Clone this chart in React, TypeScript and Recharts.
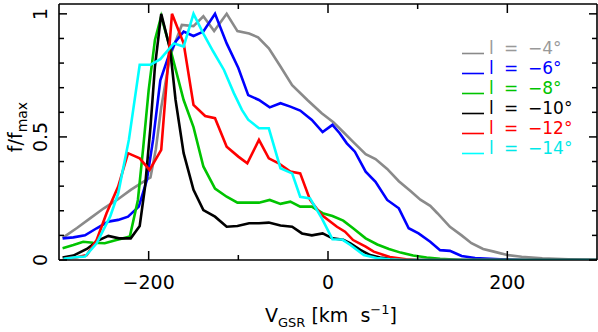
import { LineChart, Line, XAxis, YAxis } from 'recharts';

const X_TICKS = [-200, -100, 0, 100, 200];
const X_LABELED = [-200, 0, 200];
const Y_TICKS = [0, 0.1, 0.2, 0.3, 0.4, 0.5, 0.6, 0.7, 0.8, 0.9, 1];
const Y_LABELED = [0, 0.5, 1];

// [v_gsr, f/fmax]
const L4 = [
  [-296, 0.09], [-280, 0.13], [-265, 0.17], [-250, 0.21], [-235, 0.245], [-220, 0.285], [-207, 0.315],
  [-198, 0.335], [-192, 0.45], [-186, 0.62], [-176, 0.83], [-163, 0.955], [-150, 0.95], [-139, 0.99],
  [-127, 0.93], [-113, 1.0], [-101, 0.93], [-88, 0.92], [-78, 0.905], [-66, 0.86], [-53, 0.786],
  [-40, 0.71], [-23, 0.65], [-7, 0.596], [6, 0.56], [17, 0.52], [28, 0.48], [42, 0.43], [53, 0.41],
  [66, 0.37], [79, 0.32], [92, 0.28], [103, 0.245], [114, 0.22], [122, 0.19], [136, 0.135], [149, 0.1],
  [160, 0.068], [173, 0.045], [185, 0.034], [200, 0.02], [216, 0.013], [239, 0.007], [268, 0.003], [300, 0],
];
const L6 = [
  [-296, 0.088], [-284, 0.092], [-271, 0.1], [-258, 0.129], [-245, 0.156], [-234, 0.163], [-223, 0.176],
  [-211, 0.217], [-202, 0.325], [-195, 0.49], [-187, 0.73], [-178, 0.826], [-170, 0.887], [-161, 0.928],
  [-150, 0.91], [-139, 0.928], [-126, 1.0], [-113, 0.88], [-100, 0.78], [-89, 0.67], [-77, 0.65],
  [-65, 0.62], [-53, 0.637], [-42, 0.623], [-31, 0.607], [-18, 0.569], [-6, 0.52], [5, 0.549], [13, 0.515],
  [21, 0.474], [30, 0.44], [42, 0.359], [53, 0.318], [66, 0.244], [79, 0.21], [90, 0.129], [101, 0.108],
  [114, 0.074], [125, 0.04], [136, 0.037], [149, 0.016], [164, 0.008], [192, 0.003], [220, 0], [300, 0],
];
const L8 = [
  [-296, 0.048], [-284, 0.061], [-273, 0.074], [-262, 0.07], [-249, 0.068], [-236, 0.081], [-221, 0.095],
  [-212, 0.244], [-206, 0.46], [-200, 0.69], [-193, 0.894], [-186, 0.99], [-176, 0.86], [-161, 0.65],
  [-150, 0.54], [-139, 0.38], [-126, 0.29], [-113, 0.257], [-101, 0.233], [-88, 0.233], [-77, 0.233],
  [-65, 0.244], [-53, 0.228], [-42, 0.237], [-31, 0.217], [-18, 0.217], [-6, 0.19], [5, 0.179], [17, 0.16],
  [28, 0.129], [42, 0.088], [55, 0.063], [68, 0.045], [81, 0.03], [95, 0.018], [110, 0.01], [125, 0.005],
  [150, 0], [300, 0],
];
const L10 = [
  [-296, 0.01], [-284, 0.018], [-269, 0.045], [-256, 0.08], [-245, 0.098], [-233, 0.088], [-220, 0.088],
  [-210, 0.138], [-204, 0.298], [-198, 0.54], [-193, 0.786], [-186, 1.0], [-176, 0.854], [-170, 0.65],
  [-161, 0.434], [-150, 0.285], [-139, 0.203], [-126, 0.176], [-113, 0.135], [-101, 0.138], [-88, 0.149],
  [-77, 0.149], [-66, 0.152], [-53, 0.14], [-40, 0.135], [-29, 0.108], [-18, 0.1], [-6, 0.108], [5, 0.088],
  [17, 0.082], [25, 0.068], [36, 0.041], [47, 0.02], [58, 0.01], [73, 0.004], [90, 0], [300, 0],
];
const L12 = [
  [-293, 0.007], [-280, 0.011], [-269, 0.02], [-258, 0.081], [-247, 0.19], [-234, 0.298], [-223, 0.434],
  [-210, 0.413], [-199, 0.366], [-186, 0.447], [-174, 1.0], [-161, 0.88], [-150, 0.63], [-137, 0.585],
  [-126, 0.576], [-113, 0.46], [-100, 0.42], [-90, 0.393], [-77, 0.488], [-66, 0.413], [-55, 0.393],
  [-42, 0.359], [-31, 0.352], [-20, 0.244], [-7, 0.183], [10, 0.135], [19, 0.115], [28, 0.081],
  [42, 0.054], [51, 0.034], [69, 0.012], [87, 0.003], [100, 0], [300, 0],
];
const L14 = [
  [-295, 0.005], [-282, 0.011], [-271, 0.014], [-258, 0.068], [-243, 0.176], [-234, 0.27], [-222, 0.49],
  [-210, 0.793], [-198, 0.793], [-187, 0.816], [-172, 0.88], [-161, 0.867], [-150, 1.0], [-139, 0.92],
  [-128, 0.847], [-116, 0.772], [-105, 0.678], [-96, 0.61], [-89, 0.57], [-77, 0.535], [-66, 0.535],
  [-53, 0.373], [-40, 0.352], [-31, 0.257], [-20, 0.25], [-7, 0.17], [5, 0.084], [16, 0.083], [25, 0.061],
  [40, 0.02], [54, 0.008], [69, 0.003], [85, 0], [300, 0],
];

const SERIES = [
  { label: '−4°', line: '#8a8a8a', text: '#999999', pts: L4 },
  { label: '−6°', line: '#0000ff', text: '#0000ff', pts: L6 },
  { label: '−8°', line: '#00c400', text: '#00c400', pts: L8 },
  { label: '−10°', line: '#000000', text: '#000000', pts: L10 },
  { label: '−12°', line: '#ff0000', text: '#ff0000', pts: L12 },
  { label: '−14°', line: '#00ffff', text: '#00e8e8', pts: L14 },
];

const FONT = '"DejaVu Sans", sans-serif';
const AXIS = { stroke: '#000', strokeWidth: 1.6 };
const fmtX = (v: number) => (v < 0 ? `−${-v}` : `${v}`);

function BottomTick({ x, y, payload }: any) {
  const major = X_LABELED.includes(payload.value);
  return (
    <g>
      <line x1={x} x2={x} y1={y} y2={y - (major ? 9 : 5)} stroke="#000" strokeWidth={1.5} />
      {major && (
        <text x={x} y={y + 29} textAnchor="middle" fontFamily={FONT} fontSize={19} fill="#000">
          {fmtX(payload.value)}
        </text>
      )}
    </g>
  );
}

function TopTick({ x, y, payload }: any) {
  const major = X_LABELED.includes(payload.value);
  return <line x1={x} x2={x} y1={y} y2={y + (major ? 9 : 5)} stroke="#000" strokeWidth={1.5} />;
}

function LeftTick({ x, y, payload }: any) {
  const major = Y_LABELED.includes(payload.value);
  return (
    <g>
      <line x1={x} x2={x + (major ? 8 : 5)} y1={y} y2={y} stroke="#000" strokeWidth={1.5} />
      {major && (
        <text transform={`translate(47,${y}) rotate(-90)`} textAnchor="middle" fontFamily={FONT} fontSize={19} fill="#000">
          {payload.value}
        </text>
      )}
    </g>
  );
}

function RightTick({ x, y, payload }: any) {
  const major = Y_LABELED.includes(payload.value);
  return <line x1={x} x2={x - (major ? 8 : 5)} y1={y} y2={y} stroke="#000" strokeWidth={1.5} />;
}

export default function App() {
  return (
    <div style={{ position: 'absolute', left: 0, top: 0, width: 598, height: 332, background: '#fff' }}>
      <LineChart width={598} height={332} margin={{ top: 0, right: 0, bottom: 0, left: 0 }}>
        <XAxis xAxisId="b" dataKey="v" type="number" domain={[-300, 300]} allowDataOverflow ticks={X_TICKS}
          interval={0} tickSize={0} tickMargin={0} height={72} axisLine={AXIS} tickLine={false} tick={(p: any) => <BottomTick {...p} />} />
        <XAxis xAxisId="t" orientation="top" dataKey="v" type="number" domain={[-300, 300]} allowDataOverflow ticks={X_TICKS}
          interval={0} tickSize={0} tickMargin={0} height={4} axisLine={AXIS} tickLine={false} tick={(p: any) => <TopTick {...p} />} />
        <YAxis yAxisId="l" type="number" domain={[0, 1.04]} allowDataOverflow ticks={Y_TICKS} interval={0}
          tickSize={0} tickMargin={0} width={59} axisLine={AXIS} tickLine={false} tick={(p: any) => <LeftTick {...p} />} />
        <YAxis yAxisId="r" orientation="right" type="number" domain={[0, 1.04]} allowDataOverflow ticks={Y_TICKS} interval={0}
          tickSize={0} tickMargin={0} width={1} axisLine={AXIS} tickLine={false} tick={(p: any) => <RightTick {...p} />} />
        {SERIES.map((s) => (
          <Line key={s.label} xAxisId="b" yAxisId="l" data={s.pts.map(([v, f]) => ({ v, f }))} dataKey="f"
            stroke={s.line} strokeWidth={2.6} dot={false} isAnimationActive={false} strokeLinejoin="miter" />
        ))}
      </LineChart>
      <svg width={598} height={332} style={{ position: 'absolute', left: 0, top: 0, pointerEvents: 'none' }}>
        {SERIES.map((s, i) => {
          const by = 53.5 + i * 20;
          return (
            <g key={s.label} fontFamily={FONT} fontSize={17} fill={s.text}>
              <line x1={462} x2={484} y1={by} y2={by} stroke={s.line} strokeWidth={1.6} />
              <text x={489} y={by}>l</text>
              <text x={504} y={by}>=</text>
              <text x={528} y={by}>{s.label}</text>
            </g>
          );
        })}
        <text x={265} y={322} fontFamily={FONT} fontSize={19} fill="#000" xmlSpace="preserve">
          V<tspan fontSize={13} dy={5}>GSR</tspan>
          <tspan dy={-5}> [km  s</tspan>
          <tspan fontSize={13} dy={-8}>−1</tspan>
          <tspan dy={8}>]</tspan>
        </text>
        <text transform="translate(22,127) rotate(-90)" textAnchor="middle" fontFamily={FONT} fontSize={19} fill="#000">
          f/f<tspan fontSize={14} dy={5}>max</tspan>
        </text>
      </svg>
    </div>
  );
}
